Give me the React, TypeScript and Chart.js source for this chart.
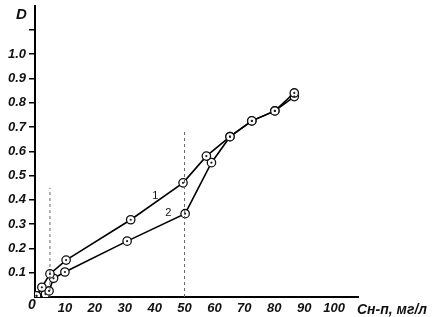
import React, { useEffect, useRef } from "react";
import { Chart, registerables } from "chart.js";

Chart.register(...registerables);

// Series 1 (upper curve in middle range)
const series1X = [0.5, 2.3, 5, 10.4, 32, 49.5, 57.3, 65.2, 72.5, 80.2, 86.7];
const series1Y = [0.005, 0.04, 0.095, 0.152, 0.318, 0.47, 0.58, 0.66, 0.725, 0.766, 0.84];
// Series 2 (lower curve)
const series2X = [0.5, 3.5, 4.7, 6.2, 10, 30.8, 50.2, 59, 65.2, 72.5, 80.2, 86.7];
const series2Y = [0.005, 0.012, 0.025, 0.077, 0.103, 0.23, 0.343, 0.553, 0.66, 0.725, 0.766, 0.825];
// Dashed guide lines: x position and top D value
const guideX = [5, 50];
const guideTop = [0.45, 0.68];
// Curve labels
const curveLabels = ["1", "2"];
const curveLabelX = [40.2, 44.6];
const curveLabelY = [0.414, 0.344];

const xTickValues = [10, 20, 30, 40, 50, 60, 70, 80, 90, 100];
const yTickValues = [0.1, 0.2, 0.3, 0.4, 0.5, 0.6, 0.7, 0.8, 0.9, 1.0];

const FONT = "'Liberation Sans', Arial, sans-serif";

export default function App() {
  const ref = useRef<HTMLCanvasElement>(null);

  useEffect(() => {
    document.body.style.margin = "0";
    const canvas = ref.current!;
    const toPts = (xs: number[], ys: number[]) => xs.map((x, i) => ({ x, y: ys[i] }));

    const markerStyle = {
      borderColor: "#000",
      borderWidth: 1.6,
      pointRadius: 4.2,
      pointBorderWidth: 1.3,
      pointBackgroundColor: "#fff",
      pointBorderColor: "#111",
      showLine: true,
      tension: 0,
    };

    const guideSets = guideX.map((gx, i) => ({
      data: [
        { x: gx, y: 0 },
        { x: gx, y: guideTop[i] },
      ],
      borderColor: "#666",
      borderWidth: 1,
      borderDash: [3, 3],
      pointRadius: 0,
      showLine: true,
    }));

    const overlay = {
      id: "overlay",
      afterDatasetsDraw(chart: any) {
        const ctx = chart.ctx;
        const xs = chart.scales.x;
        const ys = chart.scales.y;
        ctx.save();
        [2, 3].forEach((di) => {
          const meta = chart.getDatasetMeta(di);
          meta.data.forEach((p: any) => {
            ctx.beginPath();
            ctx.fillStyle = "#222";
            ctx.arc(p.x, p.y, 1.1, 0, Math.PI * 2);
            ctx.fill();
          });
        });
        ctx.fillStyle = "#111";
        ctx.font = `11px ${FONT}`;
        ctx.textAlign = "center";
        ctx.textBaseline = "middle";
        curveLabels.forEach((t, i) => {
          ctx.fillText(t, xs.getPixelForValue(curveLabelX[i]), ys.getPixelForValue(curveLabelY[i]));
        });
        ctx.font = `bold italic 15px ${FONT}`;
        ctx.textAlign = "left";
        ctx.fillText("D", 16, 15);
        ctx.font = `bold italic 14px ${FONT}`;
        ctx.fillText("Сн-п, мг/л", 357, 310);
        ctx.textAlign = "center";
        ctx.fillText("0", xs.getPixelForValue(0) - 3, ys.getPixelForValue(0) + 8);
        ctx.restore();
      },
    };

    const chart = new Chart(canvas, {
      type: "scatter",
      data: {
        datasets: [
          ...guideSets,
          { data: toPts(series1X, series1Y), ...markerStyle },
          { data: toPts(series2X, series2Y), ...markerStyle },
        ],
      } as any,
      options: {
        animation: false,
        responsive: false,
        maintainAspectRatio: false,
        layout: { padding: { top: 5, right: 76, left: 0, bottom: 0 } },
        plugins: { legend: { display: false }, tooltip: { enabled: false } },
        scales: {
          x: {
            type: "linear",
            min: 0,
            max: 108,
            afterBuildTicks: (s: any) => {
              s.ticks = xTickValues.map((v) => ({ value: v }));
            },
            afterFit: (s: any) => {
              s.height = 20;
              s.paddingLeft = 0;
              s.paddingRight = 0;
            },
            grid: { display: false, drawTicks: false },
            border: { display: true, color: "#000", width: 2 },
            ticks: {
              padding: 4,
              color: "#111",
              font: { family: FONT, size: 13, style: "italic", weight: "bold" },
              callback: (v: any) => String(v),
            },
          },
          y: {
            type: "linear",
            min: 0,
            max: 1.2,
            afterBuildTicks: (s: any) => {
              s.ticks = [...yTickValues, 1.1].map((v) => ({ value: v }));
            },
            afterFit: (s: any) => {
              s.width = 35;
              s.paddingTop = 0;
              s.paddingBottom = 0;
            },
            grid: {
              display: true,
              drawOnChartArea: false,
              drawTicks: true,
              tickLength: 6,
              color: "#000",
              lineWidth: 1.5,
            },
            border: { display: true, color: "#000", width: 2 },
            ticks: {
              padding: 3,
              color: "#111",
              font: { family: FONT, size: 13, style: "italic", weight: "bold" },
              callback: (v: any) => (Math.abs(v - 1.1) < 1e-6 ? "" : Number(v).toFixed(1)),
            },
          },
        },
      } as any,
      plugins: [overlay],
    });
    return () => chart.destroy();
  }, []);

  return <canvas ref={ref} width={434} height={317} style={{ display: "block" }} />;
}
